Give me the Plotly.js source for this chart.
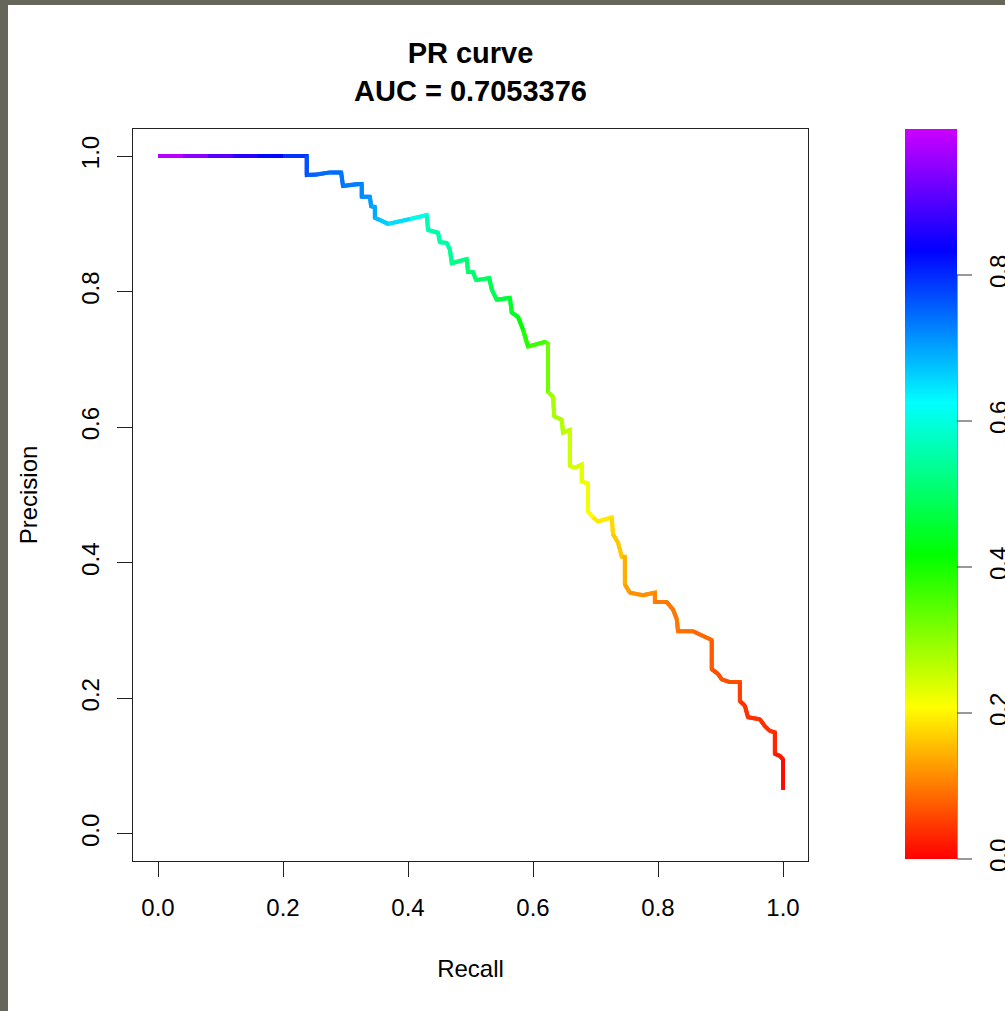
<!DOCTYPE html>
<html>
<head>
<meta charset="utf-8">
<script src="https://cdn.plot.ly/plotly-3.0.1.min.js"></script>
<style>
  html, body { margin: 0; padding: 0; background: #66675a; width: 1005px; height: 1011px; overflow: hidden; }
  #chart { position: absolute; left: 8px; top: 5px; width: 997px; height: 1006px; background: #ffffff; }
</style>
</head>
<body>
<div id="chart"></div>
<script>
// ---- data ----
const recall = [0.000, 0.040, 0.080, 0.120, 0.160, 0.200, 0.238, 0.238, 0.254, 0.275, 0.293, 0.296, 0.317, 0.326, 0.326, 0.339,
  0.341, 0.347, 0.347, 0.355, 0.368, 0.403, 0.430, 0.432, 0.448, 0.451, 0.462, 0.467, 0.470, 0.494, 0.496, 0.504,
  0.509, 0.530, 0.534, 0.542, 0.563, 0.566, 0.576, 0.584, 0.592, 0.619, 0.624, 0.624, 0.632, 0.634, 0.646, 0.648,
  0.659, 0.659, 0.667, 0.678, 0.678, 0.688, 0.688, 0.696, 0.704, 0.726, 0.728, 0.736, 0.742, 0.747, 0.747, 0.755,
  0.776, 0.795, 0.795, 0.814, 0.824, 0.830, 0.832, 0.856, 0.872, 0.886, 0.886, 0.896, 0.902, 0.915, 0.931, 0.931,
  0.939, 0.944, 0.963, 0.971, 0.979, 0.987, 0.987, 0.995, 1.000, 1.000];
const precision = [1.000, 1.000, 1.000, 1.000, 1.000, 1.000, 1.000, 0.972, 0.973, 0.976, 0.976, 0.956, 0.959, 0.959, 0.940, 0.940,
  0.926, 0.925, 0.909, 0.906, 0.900, 0.907, 0.913, 0.891, 0.887, 0.873, 0.872, 0.862, 0.842, 0.848, 0.829, 0.829,
  0.817, 0.820, 0.803, 0.788, 0.791, 0.769, 0.763, 0.744, 0.719, 0.726, 0.723, 0.652, 0.645, 0.616, 0.611, 0.592,
  0.596, 0.543, 0.540, 0.545, 0.520, 0.517, 0.476, 0.467, 0.461, 0.467, 0.442, 0.430, 0.409, 0.409, 0.368, 0.356,
  0.352, 0.356, 0.342, 0.342, 0.331, 0.317, 0.299, 0.299, 0.292, 0.286, 0.243, 0.236, 0.228, 0.224, 0.224, 0.196,
  0.189, 0.172, 0.169, 0.159, 0.152, 0.150, 0.118, 0.115, 0.110, 0.065];
// classification threshold (score) at each curve point
const score = [1.000, 0.965, 0.925, 0.885, 0.845, 0.810, 0.770, 0.765, 0.745, 0.745, 0.745, 0.730, 0.730, 0.730, 0.715, 0.715,
  0.695, 0.695, 0.695, 0.665, 0.665, 0.640, 0.573, 0.555, 0.555, 0.555, 0.555, 0.535, 0.535, 0.507, 0.507, 0.507,
  0.507, 0.480, 0.480, 0.480, 0.445, 0.445, 0.445, 0.390, 0.390, 0.350, 0.350, 0.300, 0.280, 0.280, 0.280, 0.260,
  0.260, 0.240, 0.240, 0.240, 0.220, 0.220, 0.220, 0.190, 0.190, 0.190, 0.163, 0.163, 0.163, 0.143, 0.143, 0.118,
  0.118, 0.118, 0.098, 0.098, 0.098, 0.098, 0.098, 0.085, 0.085, 0.085, 0.065, 0.065, 0.065, 0.065, 0.065, 0.040,
  0.040, 0.040, 0.040, 0.040, 0.040, 0.040, 0.020, 0.020, 0.020, 0.000];

const axisTicks = [0, 0.2, 0.4, 0.6, 0.8, 1.0];
const axisTickText = ['0.0', '0.2', '0.4', '0.6', '0.8', '1.0'];
const barTicks = [0, 0.2, 0.4, 0.6, 0.8];
const barTickText = ['0.0', '0.2', '0.4', '0.6', '0.8'];
const titleText = '<b>PR curve</b><br><b>AUC = 0.7053376</b>';

// ---- style ----
const FONT = 'Liberation Sans, Arial, sans-serif';
const HUE_END = 288; // R rainbow(start=0, end=0.8)
function rainbow(s) {
  const h = (Math.max(0, Math.min(1, s)) * HUE_END) / 60;
  const i = Math.floor(h) % 6, f = h - Math.floor(h);
  const q = 1 - f, t = f;
  let r, g, b;
  switch (i) {
    case 0: r = 1; g = t; b = 0; break;
    case 1: r = q; g = 1; b = 0; break;
    case 2: r = 0; g = 1; b = t; break;
    case 3: r = 0; g = q; b = 1; break;
    case 4: r = t; g = 0; b = 1; break;
    default: r = 1; g = 0; b = q;
  }
  return 'rgb(' + Math.round(r * 255) + ',' + Math.round(g * 255) + ',' + Math.round(b * 255) + ')';
}
const colorscale = [[0, rainbow(0)], [60 / HUE_END, rainbow(60 / HUE_END)], [120 / HUE_END, rainbow(120 / HUE_END)],
  [180 / HUE_END, rainbow(180 / HUE_END)], [240 / HUE_END, rainbow(240 / HUE_END)], [1, rainbow(1)]];

const traces = [];
for (let i = 0; i < recall.length - 1; i++) {
  const end = Math.min(i + 3, recall.length);
  traces.push({
    type: 'scatter', mode: 'lines',
    x: recall.slice(i, end), y: precision.slice(i, end),
    line: { color: rainbow((score[i] + score[i + 1]) / 2), width: 4 },
    hoverinfo: 'skip', showlegend: false
  });
}

// colour bar geometry (pixels inside the chart div)
const W = 997, H = 1006, ML = 125, MR = 197, MT = 124, MB = 150;
const plotW = W - ML - MR, plotH = H - MT - MB;
const barLeft = 897, barThick = 52, barLen = 730;
const barTickLen = 15, barLabelGap = 22;
const barX = (barLeft - ML) / plotW;
const barRight = barX + barThick / plotW;
const barBottom = 1 - barLen / plotH;
const barY = v => barBottom + v * barLen / plotH;

traces.push({
  type: 'scatter', mode: 'markers', x: recall, y: precision,
  marker: {
    color: score, cmin: 0, cmax: 1, colorscale: colorscale, opacity: 0, size: 1,
    showscale: true,
    colorbar: {
      x: barX, xanchor: 'left', xref: 'paper', xpad: 0,
      y: 1, yanchor: 'top', yref: 'paper', ypad: 0,
      thickness: barThick, thicknessmode: 'pixels',
      len: barLen, lenmode: 'pixels',
      outlinewidth: 0,
      tickmode: 'array', tickvals: barTicks, ticktext: barTickText,
      ticks: 'outside', ticklen: barLabelGap, tickwidth: 1, tickcolor: 'rgba(0,0,0,0)',
      tickangle: -90,
      tickfont: { family: FONT, size: 24, color: '#000000' }
    }
  },
  hoverinfo: 'skip', showlegend: false
});

const axisCommon = {
  range: [-0.04, 1.04], showgrid: false, zeroline: false,
  showline: true, mirror: true, linecolor: '#222222', linewidth: 1,
  ticks: 'outside', ticklen: 15, tickwidth: 1, tickcolor: '#222222',
  tickmode: 'array', tickvals: axisTicks, ticktext: axisTickText,
  tickfont: { family: FONT, size: 24, color: '#000000' },
  automargin: false, fixedrange: true
};

// R-style colour-bar axis: line from first to last tick, plus tick marks
const shapes = [{
  type: 'line', xref: 'paper', yref: 'paper',
  x0: barRight, x1: barRight, y0: barY(barTicks[0]), y1: barY(barTicks[barTicks.length - 1]),
  line: { color: '#333333', width: 1 }
}];
barTicks.forEach(v => shapes.push({
  type: 'line', xref: 'paper', yref: 'paper',
  x0: barRight, x1: barRight + barTickLen / plotW, y0: barY(v), y1: barY(v),
  line: { color: '#333333', width: 1 }
}));

const layout = {
  width: W, height: H,
  margin: { l: ML, r: MR, t: MT, b: MB, autoexpand: false },
  paper_bgcolor: '#ffffff', plot_bgcolor: '#ffffff',
  font: { family: FONT, color: '#000000' },
  title: {
    text: titleText, font: { family: FONT, size: 29, color: '#000000' },
    x: 0.5, xref: 'paper', xanchor: 'center',
    y: 1 - 58 / H, yref: 'container', yanchor: 'top'
  },
  xaxis: Object.assign({}, axisCommon, {
    ticklabelstandoff: 10,
    title: { text: 'Recall', font: { family: FONT, size: 24, color: '#000000' }, standoff: 40 }
  }),
  yaxis: Object.assign({}, axisCommon, {
    tickangle: -90, ticklabelstandoff: 8,
    title: { text: 'Precision', font: { family: FONT, size: 24, color: '#000000' }, standoff: 33 }
  }),
  shapes: shapes
};

Plotly.newPlot('chart', traces, layout, { staticPlot: true, displayModeBar: false });
</script>
</body>
</html>
